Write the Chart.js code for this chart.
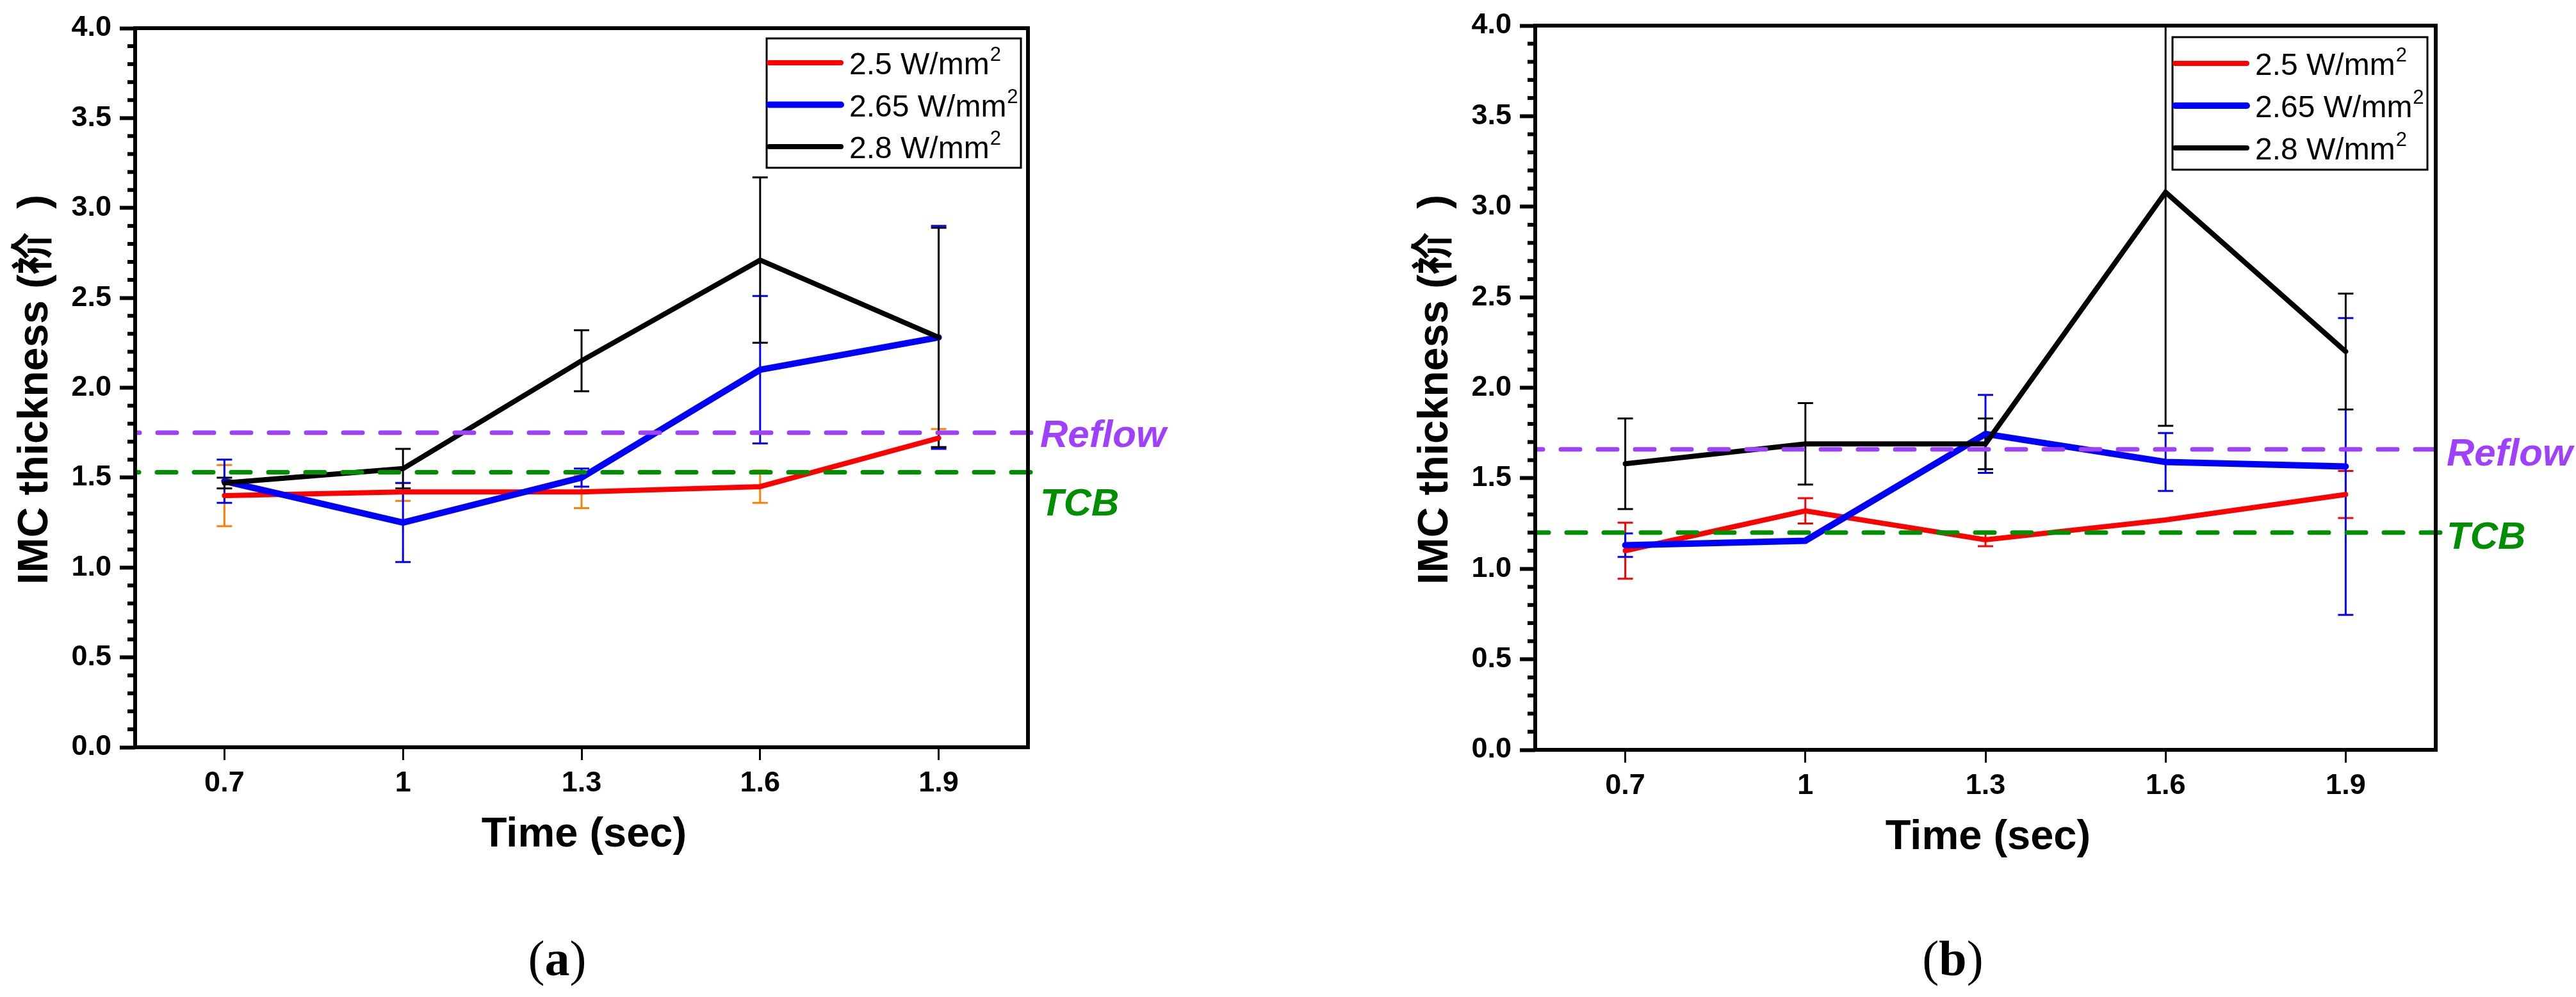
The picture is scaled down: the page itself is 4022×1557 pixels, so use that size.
<!DOCTYPE html>
<html><head><meta charset="utf-8">
<script src="https://cdn.jsdelivr.net/npm/chart.js@4.4.0/dist/chart.umd.min.js"></script>
<style>
html,body{margin:0;padding:0;background:#fff;}
body{width:4022px;height:1557px;position:relative;overflow:hidden;}
canvas{position:absolute;top:0;}
</style></head><body>
<canvas id="ca" width="2011" height="1557" style="left:0;width:2011px;height:1557px"></canvas>
<canvas id="cb" width="2011" height="1557" style="left:2011px;width:2011px;height:1557px"></canvas>
<script>
// ---------- data ----------
const timeLabels = ['0.7', '1', '1.3', '1.6', '1.9'];
const seriesNames = ['2.5 W/mm²', '2.65 W/mm²', '2.8 W/mm²'];
const xTitle = 'Time (sec)';
const yTitle = 'IMC thickness (祄  )';
const yMin = 0, yMax = 4, yStep = 0.5, yMinorStep = 0.1;

const aRed      = [1.40, 1.42, 1.42, 1.45, 1.72];
const aRedErr   = [0.17, 0.05, 0.09, 0.09, 0.05];
const aBlue     = [1.48, 1.25, 1.50, 2.10, 2.28];
const aBlueErr  = [0.12, 0.22, 0.05, 0.41, 0.62];
const aBlack    = [1.47, 1.55, 2.15, 2.71, 2.28];
const aBlackErr = [0.03, 0.11, 0.17, 0.46, 0.61];
const aReflow = 1.75, aTCB = 1.53;

const bRed      = [1.10, 1.32, 1.16, 1.27, 1.41];
const bRedErr   = [0.155, 0.07, 0.035, 0.0, 0.13];
const bBlue     = [1.13, 1.155, 1.745, 1.59, 1.565];
const bBlueErr  = [0.065, 0.0, 0.215, 0.16, 0.82];
const bBlack    = [1.58, 1.69, 1.69, 3.08, 2.20];
const bBlackErr = [0.25, 0.225, 0.14, 1.29, 0.32];
const bReflow = 1.66, bTCB = 1.20;

// ---------- styles ----------
const FONT = '"Liberation Sans", Arial, "Noto Sans CJK SC", sans-serif';
const SERIF = '"Liberation Serif", "Times New Roman", serif';
const W = 2011, H = 1557;
const PURPLE = '#A040FF', GREEN = '#008F00';

function panelPlugin(p) {
  return {
    id: 'panel_' + p.tag,
    beforeDatasetsDraw(chart) {
      const {ctx, chartArea: ca, scales: {x, y}} = chart;
      ctx.save();
      ctx.beginPath();
      ctx.rect(ca.left, ca.top, ca.right - ca.left, ca.bottom - ca.top);
      ctx.clip();
      chart.data.datasets.forEach(ds => {
        ctx.strokeStyle = ds.errColor;
        ctx.lineWidth = 3;
        ctx.lineCap = 'butt';
        ds.data.forEach((v, i) => {
          const e = ds.err[i];
          if (!e) return;
          const px = x.getPixelForValue(i);
          const pt = y.getPixelForValue(v + e), pb = y.getPixelForValue(v - e);
          ctx.beginPath();
          ctx.moveTo(px, pt); ctx.lineTo(px, pb);
          ctx.moveTo(px - 12, pt); ctx.lineTo(px + 12, pt);
          ctx.moveTo(px - 12, pb); ctx.lineTo(px + 12, pb);
          ctx.stroke();
        });
      });
      ctx.restore();
    },
    afterDatasetsDraw(chart) {
      const {ctx, chartArea: ca, scales: {y}} = chart;
      p.refLines.forEach(r => {
        const py = y.getPixelForValue(r.value);
        ctx.save();
        ctx.strokeStyle = r.color;
        ctx.lineWidth = 7;
        ctx.lineCap = 'round';
        ctx.setLineDash([30, 28]);
        ctx.beginPath();
        ctx.moveTo(ca.right + r.endDx, py);
        ctx.lineTo(ca.left + 3, py);
        ctx.stroke();
        ctx.restore();
        ctx.save();
        ctx.fillStyle = r.color;
        ctx.font = 'italic bold 60px ' + FONT;
        ctx.textBaseline = 'alphabetic';
        ctx.textAlign = 'left';
        ctx.fillText(r.label, ca.right + r.labelDx, py + r.labelDy);
        ctx.restore();
      });
    },
    afterDraw(chart) {
      const {ctx, chartArea: ca, scales: {y}} = chart;
      ctx.save();
      // minor ticks
      ctx.strokeStyle = '#000';
      ctx.lineWidth = 6;
      const nMinor = Math.round((yMax - yMin) / yMinorStep);
      for (let i = 0; i <= nMinor; i++) {
        if (i % 5 === 0) continue;
        const py = y.getPixelForValue(yMin + i * yMinorStep);
        ctx.beginPath(); ctx.moveTo(ca.left, py); ctx.lineTo(ca.left - 12, py); ctx.stroke();
      }
      // frame
      ctx.lineWidth = 6;
      ctx.lineJoin = 'miter';
      ctx.strokeRect(ca.left, ca.top, ca.right - ca.left, ca.bottom - ca.top);

      // legend
      const lg = p.legend;
      const bx = ca.right - lg.right - lg.w, by = ca.top + lg.top;
      ctx.lineWidth = 3;
      ctx.strokeRect(bx, by, lg.w, lg.h);
      chart.data.datasets.forEach((ds, i) => {
        const ry = by + lg.row0 + i * lg.rowH;
        ctx.save();
        ctx.strokeStyle = ds.borderColor;
        ctx.lineWidth = ds.borderWidth;
        ctx.lineCap = 'round';
        ctx.beginPath(); ctx.moveTo(bx + 4, ry); ctx.lineTo(bx + 116, ry); ctx.stroke();
        ctx.restore();
        const parts = ds.label.split('²');
        ctx.fillStyle = '#000';
        ctx.textAlign = 'left';
        ctx.textBaseline = 'alphabetic';
        ctx.font = '48px ' + FONT;
        const tx = bx + 129, ty = ry + 18;
        ctx.fillText(parts[0], tx, ty);
        const w0 = ctx.measureText(parts[0]).width;
        ctx.font = '31px ' + FONT;
        ctx.fillText('2', tx + w0 + 1, ty - 21);
      });

      // axis titles
      ctx.fillStyle = '#000';
      ctx.font = 'bold 65px ' + FONT;
      ctx.textAlign = 'center';
      ctx.textBaseline = 'alphabetic';
      ctx.fillText(xTitle, (ca.left + ca.right) / 2 + 4, ca.bottom + 155);

      ctx.save();
      ctx.translate(ca.left - 137, (ca.top + ca.bottom) / 2 + 3);
      ctx.rotate(-Math.PI / 2);
      ctx.font = 'bold 66px ' + FONT;
      ctx.textAlign = 'center';
      ctx.fillText(yTitle, 0, 0);
      ctx.restore();

      // panel label
      ctx.textAlign = 'left';
      ctx.font = '78px ' + SERIF;
      const wl = ctx.measureText('(').width;
      ctx.font = 'bold 78px ' + SERIF;
      const wm = ctx.measureText(p.tag).width;
      ctx.font = '78px ' + SERIF;
      const wr = ctx.measureText(')').width;
      let sx = p.labelX - (wl + wm + wr) / 2;
      ctx.fillText('(', sx, 1523);
      ctx.font = 'bold 78px ' + SERIF;
      ctx.fillText(p.tag, sx + wl, 1523);
      ctx.font = '78px ' + SERIF;
      ctx.fillText(')', sx + wl + wm, 1523);
      ctx.restore();
    }
  };
}

function makeChart(id, p) {
  const ds = p.series.map((s, i) => ({
    label: seriesNames[i],
    data: s.data,
    err: s.err,
    errColor: s.errColor,
    borderColor: s.color,
    backgroundColor: s.color,
    borderWidth: s.width,
    pointRadius: 0,
    tension: 0,
    borderCapStyle: 'round',
    borderJoinStyle: 'miter',
    order: 2 - i
  }));
  return new Chart(document.getElementById(id), {
    type: 'line',
    data: { labels: timeLabels, datasets: ds },
    options: {
      responsive: false,
      animation: false,
      devicePixelRatio: 1,
      layout: { padding: { top: p.area.top, right: W - p.area.right, left: 0, bottom: 0 } },
      plugins: { legend: { display: false }, tooltip: { enabled: false } },
      scales: {
        x: {
          type: 'category',
          offset: true,
          border: { display: false },
          grid: { display: true, drawOnChartArea: false, drawTicks: true, tickLength: 20, tickWidth: 3, tickColor: '#000', offset: false },
          ticks: { color: '#000', font: { family: FONT, size: 45, weight: 'bold' }, padding: 10, maxRotation: 0, autoSkip: false },
          afterFit(s) { s.height = H - p.area.bottom; }
        },
        y: {
          min: yMin, max: yMax,
          border: { display: false },
          grid: { display: true, drawOnChartArea: false, drawTicks: true, tickLength: 24, tickWidth: 6, tickColor: '#000' },
          ticks: { stepSize: yStep, color: '#000', font: { family: FONT, size: 45, weight: 'bold' }, padding: 13,
                   callback: v => Number(v).toFixed(1) },
          afterFit(s) { s.width = p.area.left; }
        }
      }
    },
    plugins: [panelPlugin(p)]
  });
}

makeChart('ca', {
  tag: 'a',
  area: { left: 211, top: 44, right: 1605, bottom: 1167 },
  series: [
    { data: aRed, err: aRedErr, color: '#FF0000', errColor: '#FF8000', width: 8 },
    { data: aBlue, err: aBlueErr, color: '#0000FF', errColor: '#0000FF', width: 10 },
    { data: aBlack, err: aBlackErr, color: '#000000', errColor: '#000000', width: 8 }
  ],
  refLines: [
    { value: aReflow, color: PURPLE, label: 'Reflow', endDx: 5, labelDx: 19, labelDy: 22 },
    { value: aTCB, color: GREEN, label: 'TCB', endDx: 4, labelDx: 19, labelDy: 68 }
  ],
  legend: { right: 11, top: 16, w: 397, h: 202, row0: 38, rowH: 65.5 },
  labelX: 870
});

makeChart('cb', {
  tag: 'b',
  area: { left: 386, top: 39, right: 1792, bottom: 1171 },
  series: [
    { data: bRed, err: bRedErr, color: '#FF0000', errColor: '#FF0000', width: 8 },
    { data: bBlue, err: bBlueErr, color: '#0000FF', errColor: '#0000FF', width: 10 },
    { data: bBlack, err: bBlackErr, color: '#000000', errColor: '#000000', width: 8 }
  ],
  refLines: [
    { value: bReflow, color: PURPLE, label: 'Reflow', endDx: -2, labelDx: 17, labelDy: 25 },
    { value: bTCB, color: GREEN, label: 'TCB', endDx: 7, labelDx: 17, labelDy: 25 }
  ],
  legend: { right: 13, top: 18, w: 398, h: 207, row0: 41, rowH: 66 },
  labelX: 1038
});
</script>
</body></html>
